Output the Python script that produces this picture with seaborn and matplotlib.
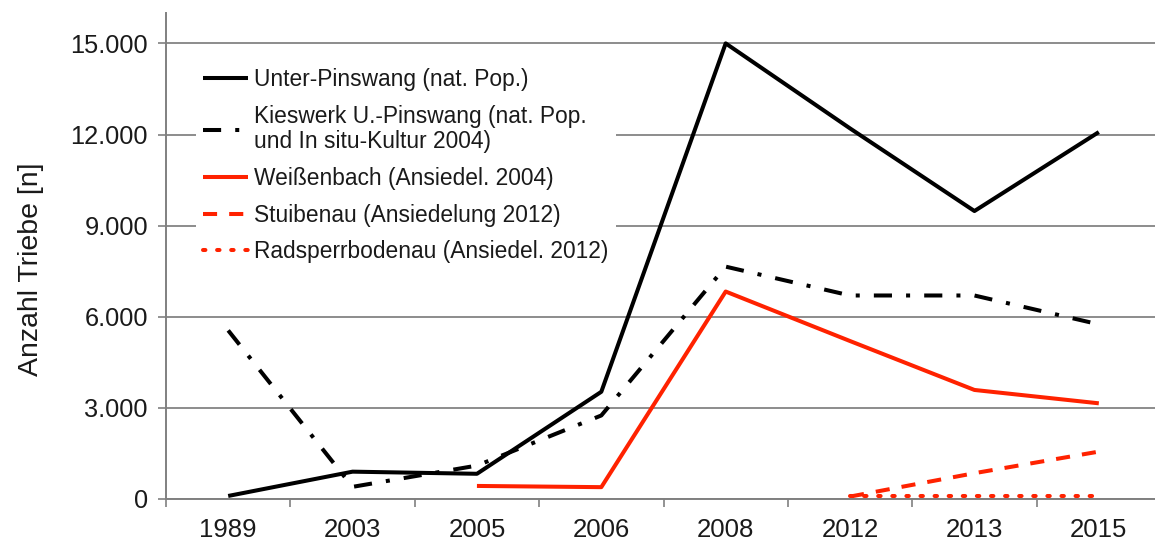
import matplotlib
matplotlib.use("Agg")
import matplotlib.pyplot as plt
import seaborn as sns
import pandas as pd

years = ["1989", "2003", "2005", "2006", "2008", "2012", "2013", "2015"]

unter_pinswang = [100, 900, 830, 3530, 15000, 12200, 9480, 12080]
kieswerk_years = ["1989", "2003", "2005", "2006", "2008", "2012", "2013", "2015"]
kieswerk = [5550, 400, 1100, 2750, 7650, 6700, 6700, 5750]
weissenbach_years = ["2005", "2006", "2008", "2012", "2013", "2015"]
weissenbach = [430, 390, 6830, 5200, 3590, 3150]
stuibenau_years = ["2012", "2013", "2015"]
stuibenau = [80, 850, 1560]
radsperr_years = ["2012", "2013", "2015"]
radsperr = [100, 100, 100]

labels = [
    "Unter-Pinswang (nat. Pop.)",
    "Kieswerk U.-Pinswang (nat. Pop.\nund In situ-Kultur 2004)",
    "Weißenbach (Ansiedel. 2004)",
    "Stuibenau (Ansiedelung 2012)",
    "Radsperrbodenau (Ansiedel. 2012)",
]
yticks = [0, 3000, 6000, 9000, 12000, 15000]
ytick_labels = ["0", "3.000", "6.000", "9.000", "12.000", "15.000"]
ylabel = "Anzahl Triebe [n]"

sns.set_style("white")
plt.rcParams["font.family"] = ["Liberation Sans", "DejaVu Sans"]

fig = plt.figure(figsize=(11.55, 5.43), dpi=100)
ax = fig.add_axes([166 / 1155, 44 / 543, 995 / 1155, 486 / 543])

black = "#000000"
red = "#ff2200"
lw = 2.9

series = [
    (years, unter_pinswang, labels[0], black, "-"),
    (kieswerk_years, kieswerk, labels[1], black, (0, (4.5, 3.5, 1, 3.5))),
    (weissenbach_years, weissenbach, labels[2], red, "-"),
    (stuibenau_years, stuibenau, labels[3], red, (0, (3.5, 3))),
    (radsperr_years, radsperr, labels[4], red, (0, (0.6, 2.9))),
]

pos = {y: i for i, y in enumerate(years)}
for xs, vals, lab, col, ls in series:
    df = pd.DataFrame({"x": [pos[x] for x in xs], "y": vals})
    sns.lineplot(data=df, x="x", y="y", ax=ax, color=col, linewidth=lw,
                 linestyle=ls, label=lab, solid_capstyle="butt",
                 dash_capstyle="round" if lab == labels[4] else "butt")

ax.set_xlim(-0.5, len(years) - 0.5)
ax.set_ylim(0, 16000)
ax.set_xticks(range(len(years)))
ax.set_xticklabels(years)
ax.set_xticks([i - 0.5 for i in range(len(years) + 1)], minor=True)
ax.tick_params(axis="x", which="major", length=0, pad=14, labelsize=18.5,
               labelcolor="#1a1a1a")
ax.tick_params(axis="x", which="minor", length=6, width=1.2, color="#808080",
               direction="out", bottom=True)
ax.set_yticks(yticks)
ax.set_yticklabels(ytick_labels)
ax.tick_params(axis="y", length=5.5, width=1.2, color="#808080", direction="out",
               left=True, labelsize=18.3, labelcolor="#1a1a1a", pad=7.5)
ax.yaxis.grid(True, color="#8c8c8c", linewidth=1.4)
ax.xaxis.grid(False)
ax.set_axisbelow(True)
for s in ["top", "right"]:
    ax.spines[s].set_visible(False)
for s in ["left", "bottom"]:
    ax.spines[s].set_color("#808080")
    ax.spines[s].set_linewidth(1.4)
ax.set_xlabel("")
ax.set_ylabel(ylabel, fontsize=20.5, color="#1a1a1a")
ax.yaxis.set_label_coords(-0.123, 0.473)

leg = ax.legend(loc="upper left", bbox_to_anchor=(0.03, 0.90), frameon=True,
                fontsize=16.4, handlelength=1.97, handletextpad=0.3,
                labelspacing=0.6, borderaxespad=0, borderpad=0.3)
leg.get_frame().set_facecolor("white")
leg.get_frame().set_edgecolor("none")
leg.get_frame().set_alpha(1)
for t in leg.get_texts():
    t.set_color("#1a1a1a")
    t.set_linespacing(1.12)

fig.savefig("out.png", dpi=100)
